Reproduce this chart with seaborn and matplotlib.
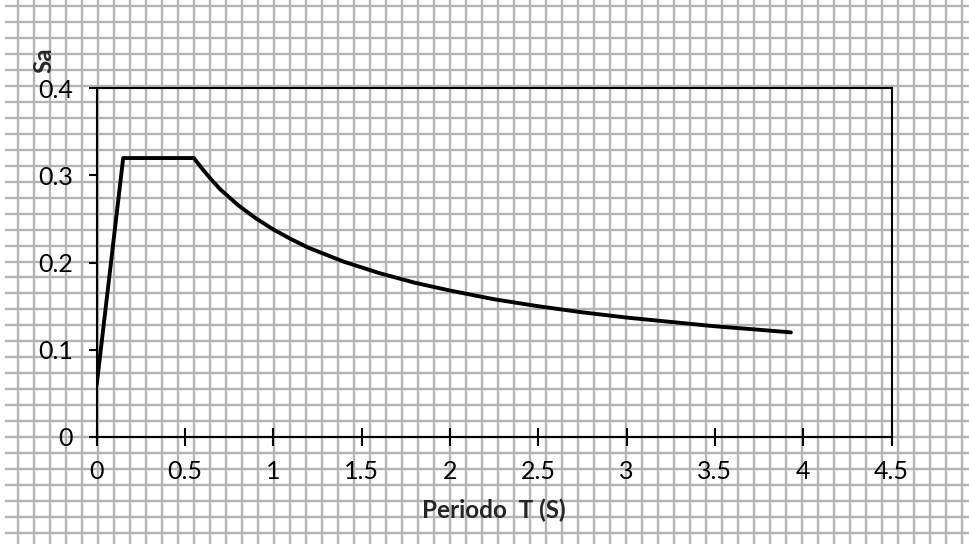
"""
Espectro de diseno Sa vs Periodo T
"""
import numpy as np
import matplotlib
matplotlib.use('Agg')
import matplotlib.pyplot as plt
import seaborn as sns

# ============================================================================
# DATA
# ============================================================================
periodo = [0.0, 0.15, 0.55, 0.6, 0.65, 0.7, 0.8, 0.9, 1.0, 1.1, 1.2, 1.4, 1.6,
           1.8, 2.0, 2.25, 2.5, 2.75, 3.0, 3.25, 3.5, 3.75, 3.93]
sa = [0.060, 0.320, 0.320, 0.307, 0.295, 0.284, 0.266, 0.251, 0.238, 0.227,
      0.217, 0.201, 0.188, 0.177, 0.168, 0.158, 0.150, 0.143, 0.137, 0.132,
      0.127, 0.123, 0.120]

x_ticks = [0, 0.5, 1, 1.5, 2, 2.5, 3, 3.5, 4, 4.5]
x_labels = ['0', '0.5', '1', '1.5', '2', '2.5', '3', '3.5', '4', '4.5']
y_ticks = [0, 0.1, 0.2, 0.3, 0.4]
y_labels = ['0', '0.1', '0.2', '0.3', '0.4']

# ============================================================================
# STYLE
# ============================================================================
sns.set_style('ticks')
plt.rcParams['font.family'] = ['Lato', 'DejaVu Sans']

W, H = 970, 544
fig = plt.figure(figsize=(W / 100, H / 100), dpi=100)
fig.patch.set_facecolor('white')

# worksheet grid behind the chart
bg = fig.add_axes([0, 0, 1, 1], zorder=0)
bg.set_xlim(0, W)
bg.set_ylim(H, 0)
bg.axis('off')
bg.vlines(np.arange(17.8, W, 16.0), 0, H, color='#b4b4b4', linewidth=1.7)
bg.hlines(np.arange(6.0, H, 15.97), 5, W, color='#b4b4b4', linewidth=1.7)

# chart
ax = fig.add_axes([96.7 / W, 1 - 437.0 / H, (891.6 - 96.7) / W, (437.0 - 88.3) / H],
                  zorder=1)
ax.patch.set_alpha(0)

sns.lineplot(x=periodo, y=sa, ax=ax, color='black', linewidth=2.8)

ax.set_xlim(0, 4.5)
ax.set_ylim(0, 0.4)
ax.set_xticks(x_ticks)
ax.set_xticklabels(x_labels)
ax.set_yticks(y_ticks)
ax.set_yticklabels(y_labels)

for s in ax.spines.values():
    s.set_visible(True)
    s.set_color('black')
    s.set_linewidth(1.5)

ax.tick_params(axis='x', direction='inout', length=13, width=1.5,
               labelsize=18, pad=10, colors='black')
ax.tick_params(axis='y', direction='out', length=6, width=1.5,
               labelsize=18, pad=11, colors='black')

ax.set_xlabel('Periodo  T (S)', fontsize=17.5, fontweight='bold', labelpad=11)
ax.set_ylabel('')
fig.text(44 / W, 1 - 60.5 / H, 'Sa', rotation=90, fontsize=17.5,
         fontweight='bold', ha='center', va='center')

plt.savefig('out.png', dpi=100)
plt.close()
print('saved out.png')
